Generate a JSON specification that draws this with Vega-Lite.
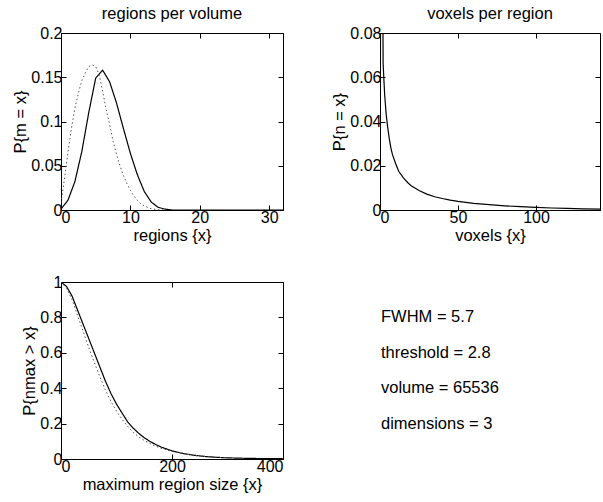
{
  "$schema": "https://vega.github.io/schema/vega-lite/v6.json",
  "autosize": {"type": "pad"},
  "padding": {"left": 12, "top": 5, "right": 0, "bottom": 5},
  "background": "white",
  "config": {
    "font": "Liberation Sans",
    "view": {"stroke": "black", "strokeWidth": 1},
    "axis": {"grid": false, "domainColor": "black", "tickColor": "black", "labelColor": "black", "titleColor": "black", "labelFont": "Liberation Sans", "titleFont": "Liberation Sans", "labelFontSize": 16, "titleFontSize": 16.5, "titleFontWeight": "normal", "tickSize": -5, "labelPadding": 4, "titlePadding": 2, "labelExpr": "'' + datum.value"},
    "title": {"fontSize": 16.5, "fontWeight": "normal", "font": "Liberation Sans", "color": "black", "offset": 3}
  },
  "columns": 2,
  "bounds": "flush",
  "align": "each",
  "spacing": {"row": 72, "column": 97},
  "concat": [
    {
      "width": 222, "height": 177,
      "title": "regions per volume",
      "data": {"values": [
        {"x":0,"p":0.001,"s":"a"},{"x":1,"p":0.011,"s":"a"},{"x":2,"p":0.032,"s":"a"},{"x":3,"p":0.066,"s":"a"},{"x":4,"p":0.110,"s":"a"},{"x":5,"p":0.149,"s":"a"},{"x":6,"p":0.158,"s":"a"},{"x":7,"p":0.145,"s":"a"},{"x":8,"p":0.121,"s":"a"},{"x":9,"p":0.092,"s":"a"},{"x":10,"p":0.064,"s":"a"},{"x":11,"p":0.040,"s":"a"},{"x":12,"p":0.021,"s":"a"},{"x":13,"p":0.009,"s":"a"},{"x":14,"p":0.003,"s":"a"},{"x":15,"p":0.001,"s":"a"},{"x":16,"p":0,"s":"a"},{"x":17,"p":0,"s":"a"},{"x":18,"p":0,"s":"a"},{"x":19,"p":0,"s":"a"},{"x":20,"p":0,"s":"a"},{"x":21,"p":0,"s":"a"},{"x":22,"p":0,"s":"a"},{"x":23,"p":0,"s":"a"},{"x":24,"p":0,"s":"a"},{"x":25,"p":0,"s":"a"},{"x":26,"p":0,"s":"a"},{"x":27,"p":0,"s":"a"},{"x":28,"p":0,"s":"a"},{"x":29,"p":0,"s":"a"},{"x":30,"p":0,"s":"a"},{"x":31,"p":0,"s":"a"},{"x":32,"p":0,"s":"a"},
        {"x":0,"p":0.008,"s":"b"},{"x":0.5,"p":0.035,"s":"b"},{"x":1,"p":0.065,"s":"b"},{"x":1.5,"p":0.092,"s":"b"},{"x":2,"p":0.115,"s":"b"},{"x":2.5,"p":0.132,"s":"b"},{"x":3,"p":0.146,"s":"b"},{"x":3.5,"p":0.155,"s":"b"},{"x":4,"p":0.162,"s":"b"},{"x":4.5,"p":0.164,"s":"b"},{"x":5,"p":0.162,"s":"b"},{"x":5.5,"p":0.153,"s":"b"},{"x":6,"p":0.134,"s":"b"},{"x":6.5,"p":0.114,"s":"b"},{"x":7,"p":0.097,"s":"b"},{"x":7.5,"p":0.078,"s":"b"},{"x":8,"p":0.063,"s":"b"},{"x":8.5,"p":0.050,"s":"b"},{"x":9,"p":0.039,"s":"b"},{"x":9.5,"p":0.030,"s":"b"},{"x":10,"p":0.022,"s":"b"},{"x":10.5,"p":0.016,"s":"b"},{"x":11,"p":0.011,"s":"b"},{"x":11.5,"p":0.007,"s":"b"},{"x":12,"p":0.0045,"s":"b"},{"x":12.5,"p":0.003,"s":"b"},{"x":13,"p":0.0015,"s":"b"},{"x":14,"p":0.0003,"s":"b"},{"x":15,"p":0,"s":"b"}
      ]},
      "layer": [
        {
          "mark": {"type": "line", "clip": true},
          "encoding": {
            "x": {"field": "x", "type": "quantitative", "scale": {"domain": [0, 32], "nice": false, "zero": false}, "axis": {"values": [0, 10, 20, 30], "title": "regions {x}"}},
            "y": {"field": "p", "type": "quantitative", "scale": {"domain": [0, 0.2], "nice": false}, "axis": {"values": [0, 0.05, 0.1, 0.15, 0.2], "title": "P{m = x}"}},
            "color": {"field": "s", "type": "nominal", "scale": {"domain": ["a", "b"], "range": ["black", "#555555"]}, "legend": null},
            "strokeDash": {"field": "s", "type": "nominal", "scale": {"domain": ["a", "b"], "range": [[1, 0], [1.5, 2.5]]}, "legend": null},
            "strokeWidth": {"field": "s", "type": "nominal", "scale": {"domain": ["a", "b"], "range": [1.2, 1]}, "legend": null}
          }
        },
        {
          "mark": {"type": "line", "opacity": 0},
          "encoding": {
            "x": {"field": "x", "type": "quantitative", "axis": {"orient": "top", "values": [0, 10, 20, 30], "labels": false, "title": null, "domain": false}},
            "y": {"field": "p", "type": "quantitative", "axis": {"orient": "right", "values": [0, 0.05, 0.1, 0.15, 0.2], "labels": false, "title": null, "domain": false}},
            "detail": {"field": "s"}
          }
        }
      ],
      "resolve": {"axis": {"x": "independent", "y": "independent"}}
    },
    {
      "width": 220, "height": 177,
      "title": "voxels per region",
      "data": {"values": [
        {"x":0,"p":0},{"x":1,"p":0.25},{"x":2,"p":0.066},{"x":3,"p":0.052},{"x":4,"p":0.043},{"x":5,"p":0.037},{"x":6,"p":0.032},{"x":7,"p":0.028},{"x":8,"p":0.025},{"x":10,"p":0.021},{"x":12,"p":0.0175},{"x":15,"p":0.0145},{"x":18,"p":0.0122},{"x":20,"p":0.011},{"x":25,"p":0.0088},{"x":30,"p":0.0072},{"x":35,"p":0.006},{"x":40,"p":0.0052},{"x":45,"p":0.0045},{"x":50,"p":0.0039},{"x":60,"p":0.003},{"x":70,"p":0.0024},{"x":80,"p":0.0019},{"x":90,"p":0.0015},{"x":100,"p":0.0012},{"x":110,"p":0.0009},{"x":120,"p":0.0007},{"x":130,"p":0.0005},{"x":141,"p":0.0004}
      ]},
      "layer": [
        {
          "mark": {"type": "line", "clip": true, "color": "black", "strokeWidth": 1.2},
          "encoding": {
            "x": {"field": "x", "type": "quantitative", "scale": {"domain": [0, 141], "nice": false, "zero": false}, "axis": {"values": [0, 50, 100], "title": "voxels {x}"}},
            "y": {"field": "p", "type": "quantitative", "scale": {"domain": [0, 0.08], "nice": false}, "axis": {"values": [0, 0.02, 0.04, 0.06, 0.08], "title": "P{n = x}"}}
          }
        },
        {
          "mark": {"type": "line", "opacity": 0, "clip": true},
          "encoding": {
            "x": {"field": "x", "type": "quantitative", "axis": {"orient": "top", "values": [0, 50, 100], "labels": false, "title": null, "domain": false}},
            "y": {"field": "p", "type": "quantitative", "axis": {"orient": "right", "values": [0, 0.02, 0.04, 0.06, 0.08], "labels": false, "title": null, "domain": false}}
          }
        }
      ],
      "resolve": {"axis": {"x": "independent", "y": "independent"}}
    },
    {
      "width": 222, "height": 177,
      "data": {"values": [
        {"x":0,"p":1.0,"s":"a"},{"x":10,"p":0.975,"s":"a"},{"x":20,"p":0.92,"s":"a"},{"x":30,"p":0.84,"s":"a"},{"x":40,"p":0.76,"s":"a"},{"x":50,"p":0.68,"s":"a"},{"x":60,"p":0.60,"s":"a"},{"x":70,"p":0.52,"s":"a"},{"x":80,"p":0.44,"s":"a"},{"x":90,"p":0.37,"s":"a"},{"x":100,"p":0.31,"s":"a"},{"x":110,"p":0.26,"s":"a"},{"x":120,"p":0.21,"s":"a"},{"x":130,"p":0.175,"s":"a"},{"x":140,"p":0.145,"s":"a"},{"x":150,"p":0.12,"s":"a"},{"x":160,"p":0.10,"s":"a"},{"x":170,"p":0.083,"s":"a"},{"x":180,"p":0.068,"s":"a"},{"x":200,"p":0.046,"s":"a"},{"x":220,"p":0.031,"s":"a"},{"x":240,"p":0.021,"s":"a"},{"x":260,"p":0.014,"s":"a"},{"x":280,"p":0.0095,"s":"a"},{"x":300,"p":0.0065,"s":"a"},{"x":330,"p":0.004,"s":"a"},{"x":360,"p":0.0025,"s":"a"},{"x":400,"p":0.0015,"s":"a"},
        {"x":0,"p":1.0,"s":"b"},{"x":10,"p":0.965,"s":"b"},{"x":20,"p":0.90,"s":"b"},{"x":30,"p":0.81,"s":"b"},{"x":40,"p":0.72,"s":"b"},{"x":50,"p":0.63,"s":"b"},{"x":60,"p":0.545,"s":"b"},{"x":70,"p":0.465,"s":"b"},{"x":80,"p":0.39,"s":"b"},{"x":90,"p":0.325,"s":"b"},{"x":100,"p":0.27,"s":"b"},{"x":110,"p":0.225,"s":"b"},{"x":120,"p":0.185,"s":"b"},{"x":130,"p":0.15,"s":"b"},{"x":140,"p":0.125,"s":"b"},{"x":150,"p":0.105,"s":"b"},{"x":160,"p":0.088,"s":"b"},{"x":170,"p":0.073,"s":"b"},{"x":180,"p":0.061,"s":"b"},{"x":200,"p":0.043,"s":"b"},{"x":220,"p":0.03,"s":"b"},{"x":240,"p":0.02,"s":"b"},{"x":260,"p":0.014,"s":"b"},{"x":280,"p":0.0095,"s":"b"},{"x":300,"p":0.0065,"s":"b"}
      ]},
      "layer": [
        {
          "mark": {"type": "line", "clip": true},
          "encoding": {
            "x": {"field": "x", "type": "quantitative", "scale": {"domain": [0, 400], "nice": false, "zero": false}, "axis": {"values": [0, 200, 400], "title": "maximum region size {x}"}},
            "y": {"field": "p", "type": "quantitative", "scale": {"domain": [0, 1], "nice": false}, "axis": {"values": [0, 0.2, 0.4, 0.6, 0.8, 1], "title": "P{nmax > x}"}},
            "color": {"field": "s", "type": "nominal", "scale": {"domain": ["a", "b"], "range": ["black", "#555555"]}, "legend": null},
            "strokeDash": {"field": "s", "type": "nominal", "scale": {"domain": ["a", "b"], "range": [[1, 0], [1.5, 2.5]]}, "legend": null},
            "strokeWidth": {"field": "s", "type": "nominal", "scale": {"domain": ["a", "b"], "range": [1.2, 1]}, "legend": null}
          }
        },
        {
          "mark": {"type": "line", "opacity": 0},
          "encoding": {
            "x": {"field": "x", "type": "quantitative", "axis": {"orient": "top", "values": [0, 200, 400], "labels": false, "title": null, "domain": false}},
            "y": {"field": "p", "type": "quantitative", "axis": {"orient": "right", "values": [0, 0.2, 0.4, 0.6, 0.8, 1], "labels": false, "title": null, "domain": false}},
            "detail": {"field": "s"}
          }
        }
      ],
      "resolve": {"axis": {"x": "independent", "y": "independent"}}
    },
    {
      "width": 220, "height": 177,
      "view": {"stroke": null},
      "data": {"values": [
        {"t": "FWHM = 5.7", "row": 1, "col": 0},
        {"t": "threshold = 2.8", "row": 2, "col": 0},
        {"t": "volume = 65536", "row": 3, "col": 0},
        {"t": "dimensions = 3", "row": 4, "col": 0}
      ]},
      "mark": {"type": "text", "align": "left", "baseline": "middle", "fontSize": 16.5, "font": "Liberation Sans", "color": "black", "dx": 1},
      "encoding": {
        "text": {"field": "t"},
        "x": {"field": "col", "type": "quantitative", "scale": {"domain": [0, 1]}, "axis": null},
        "y": {"field": "row", "type": "quantitative", "scale": {"domain": [0, 5], "reverse": true, "nice": false}, "axis": null}
      }
    }
  ]
}
